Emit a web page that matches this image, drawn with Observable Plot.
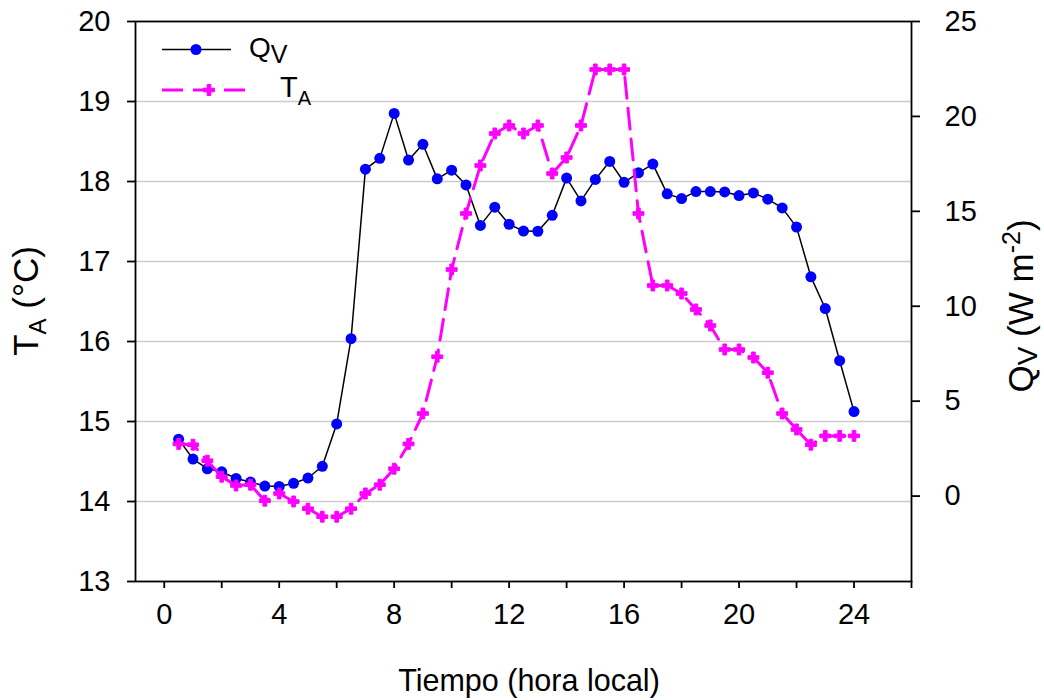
<!DOCTYPE html>
<html>
<head>
<meta charset="utf-8">
<script src="https://cdn.jsdelivr.net/npm/d3@7"></script>
<script src="https://cdn.jsdelivr.net/npm/@observablehq/plot@0.6"></script>
<style>
  body { margin: 0; background: #fff; font-family: "Liberation Sans", Arial, sans-serif; }
  #chart { width: 1044px; height: 700px; }
</style>
</head>
<body>
<div id="chart"></div>
<script>
// Half-hourly local time (h)
const hours = [0.5, 1, 1.5, 2, 2.5, 3, 3.5, 4, 4.5, 5, 5.5, 6, 6.5, 7, 7.5, 8, 8.5, 9, 9.5, 10,
  10.5, 11, 11.5, 12, 12.5, 13, 13.5, 14, 14.5, 15, 15.5, 16, 16.5, 17, 17.5, 18, 18.5, 19, 19.5, 20,
  20.5, 21, 21.5, 22, 22.5, 23, 23.5, 24];

// Q_V (W m-2), right axis
const qv = [3.0, 1.95, 1.44, 1.28, 0.93, 0.74, 0.53, 0.51, 0.67, 0.95, 1.57, 3.8, 8.29, 17.22, 17.79, 20.16,
  17.7, 18.53, 16.71, 17.17, 16.39, 14.26, 15.22, 14.32, 13.96, 13.95, 14.79, 16.75, 15.55, 16.68, 17.63, 16.53,
  17.03, 17.49, 15.92, 15.67, 16.04, 16.04, 16.02, 15.83, 15.97, 15.64, 15.18, 14.17, 11.55, 9.88, 7.13, 4.45];

// T_A (°C), left axis
const ta = [14.72, 14.71, 14.51, 14.31, 14.2, 14.21, 14.01, 14.1, 14.0, 13.91, 13.81, 13.81, 13.91, 14.1, 14.21, 14.41,
  14.72, 15.1, 15.81, 16.9, 17.6, 18.2, 18.6, 18.7, 18.6, 18.7, 18.1, 18.3, 18.7, 19.4, 19.4, 19.4,
  17.6, 16.7, 16.7, 16.6, 16.4, 16.2, 15.9, 15.9, 15.8, 15.61, 15.1, 14.9, 14.71, 14.82, 14.82, 14.82];

// Axis ticks
const taTicks = [13, 14, 15, 16, 17, 18, 19, 20];
const qvTicks = [0, 5, 10, 15, 20, 25];
const hourTicks = [0, 2, 4, 6, 8, 10, 12, 14, 16, 18, 20, 22, 24, 26];
const hourLabels = [0, 4, 8, 12, 16, 20, 24];

// Scale extents
const hourDomain = [-1, 26];
const taDomain = [13, 20];
const qvDomain = [-4.5, 25];

const BLUE = "#0000ff";
const MAGENTA = "#ff00ff";

// Map Q_V onto the T_A scale so both series share one y scale
const toLeft = q => taDomain[0] + (q - qvDomain[0]) * (taDomain[1] - taDomain[0]) / (qvDomain[1] - qvDomain[0]);
const fromLeft = t => qvDomain[0] + (t - taDomain[0]) * (qvDomain[1] - qvDomain[0]) / (taDomain[1] - taDomain[0]);

const rows = hours.map((h, i) => ({hour: h, qv: qv[i], ta: ta[i]}));

const plot = Plot.plot({
  width: 1044,
  height: 700,
  marginLeft: 135,
  marginRight: 133,
  marginTop: 21,
  marginBottom: 119,
  style: {fontFamily: "'Liberation Sans', Arial, sans-serif", fontSize: "29px", color: "black", background: "white", overflow: "visible"},
  x: {domain: hourDomain, label: null},
  y: {domain: taDomain, label: null},
  marks: [
    Plot.gridY(taTicks.filter(t => t > taDomain[0] && t < taDomain[1]), {stroke: "#cccccc", strokeOpacity: 1, strokeWidth: 1.3}),
    Plot.frame({stroke: "black", strokeWidth: 1.8}),
    Plot.axisY(taTicks, {anchor: "left", tickSize: 8, tickPadding: 17, strokeWidth: 1.8, label: null,
      tickFormat: d => String(d)}),
    Plot.axisY(qvTicks.map(toLeft), {anchor: "right", tickSize: 8, tickPadding: 25, strokeWidth: 1.8, label: null,
      tickFormat: v => String(Math.round(fromLeft(v)))}),
    Plot.axisX(hourTicks, {anchor: "bottom", tickSize: 7, tickPadding: 15, strokeWidth: 1.8, label: null,
      tickFormat: d => hourLabels.includes(d) ? String(d) : ""}),
    // Q_V series
    Plot.line(rows, {x: "hour", y: d => toLeft(d.qv), stroke: "black", strokeWidth: 1.5}),
    Plot.dot(rows, {x: "hour", y: d => toLeft(d.qv), r: 5.5, fill: BLUE, stroke: "none"}),
    // T_A series
    Plot.line(rows, {x: "hour", y: "ta", stroke: MAGENTA, strokeWidth: 3, strokeDasharray: "21,10"}),
    Plot.dot(rows, {x: "hour", y: "ta", symbol: "cross", r: 4.6, fill: MAGENTA, stroke: MAGENTA, strokeWidth: 1})
  ]
});

document.getElementById("chart").appendChild(plot);

// Titles and legend with subscripts / superscripts
const svg = d3.select(plot);
const font = "'Liberation Sans', Arial, sans-serif";

// Legend
const lg = svg.append("g").attr("font-family", font).attr("fill", "black").attr("text-anchor", "start");
lg.append("line").attr("x1", 162).attr("x2", 231).attr("y1", 49.5).attr("y2", 49.5)
  .attr("stroke", "black").attr("stroke-width", 1.5);
lg.append("circle").attr("cx", 196).attr("cy", 49.5).attr("r", 5.5).attr("fill", BLUE);
const lq = lg.append("text").attr("x", 249).attr("y", 57).attr("font-size", 28);
lq.append("tspan").text("Q");
lq.append("tspan").attr("font-size", 25).attr("dy", 5.5).text("V");

lg.append("line").attr("x1", 162).attr("x2", 247).attr("y1", 90).attr("y2", 90)
  .attr("stroke", MAGENTA).attr("stroke-width", 3).attr("stroke-dasharray", "21,10");
lg.append("path").attr("d", d3.symbol(d3.symbolCross, 4.6 * 4.6 * Math.PI)())
  .attr("transform", "translate(209,90)").attr("fill", MAGENTA).attr("stroke", MAGENTA).attr("stroke-width", 1);
const lt = lg.append("text").attr("x", 280).attr("y", 96.5).attr("font-size", 29);
lt.append("tspan").text("T");
lt.append("tspan").attr("font-size", 20).attr("dy", 8.5).text("A");

// Left axis title
const yl = svg.append("text").attr("font-family", font).attr("font-size", 35).attr("fill", "black")
  .attr("text-anchor", "middle").attr("transform", "translate(38,301) rotate(-90)");
yl.append("tspan").text("T");
yl.append("tspan").attr("font-size", 24).attr("dy", 8).text("A");
yl.append("tspan").attr("dy", -8).text(" (°C)");

// Right axis title
const yr = svg.append("text").attr("font-family", font).attr("font-size", 35).attr("fill", "black")
  .attr("text-anchor", "middle").attr("transform", "translate(1033,306) rotate(-90)");
yr.append("tspan").text("Q");
yr.append("tspan").attr("font-size", 28).attr("dy", 4).text("V");
yr.append("tspan").attr("dy", -4).text(" (W m");
yr.append("tspan").attr("font-size", 25).attr("dy", -13).text("-2");
yr.append("tspan").attr("dy", 13).text(")");

// Bottom axis title
svg.append("text").attr("font-family", font).attr("font-size", 30.5).attr("fill", "black")
  .attr("text-anchor", "middle").attr("x", 529).attr("y", 691).text("Tiempo (hora local)");
</script>
</body>
</html>
